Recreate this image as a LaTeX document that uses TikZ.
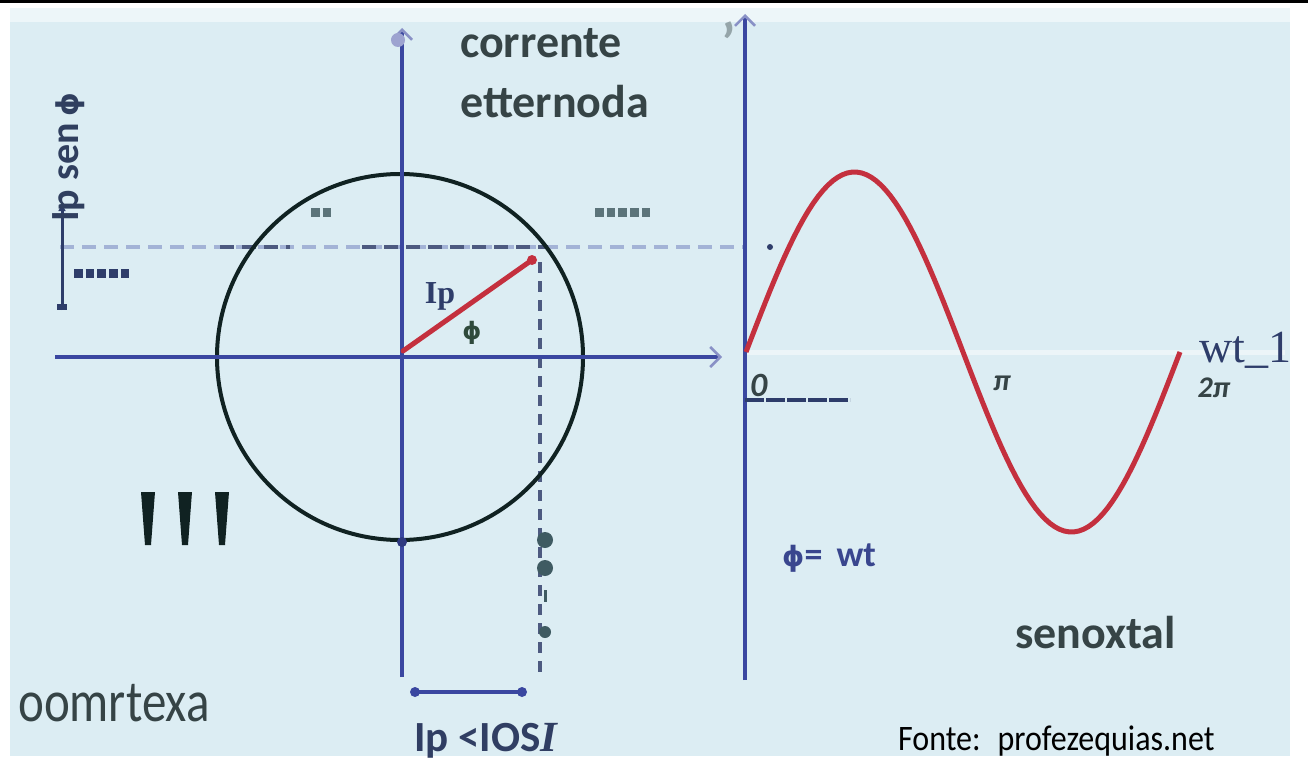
\documentclass[tikz,border=0pt]{standalone}
\usepackage{fontspec}
\setmainfont{Carlito}
\newfontfamily\timesfont{Liberation Serif}
\newfontfamily\greekfont{DejaVu Sans}
\usetikzlibrary{arrows.meta}

\definecolor{bgblue}{HTML}{DCEDF3}
\definecolor{axisblue}{HTML}{3A47A0}
\definecolor{sinered}{HTML}{C4303E}
\definecolor{darkslate}{HTML}{364446}
\definecolor{inkblue}{HTML}{2E3D6A}
\definecolor{dotgray}{HTML}{3F5B62}
\definecolor{ringblack}{HTML}{102222}
\definecolor{phigreen}{HTML}{2F4A3C}

\newcommand{\phisym}{{\greekfont\bfseries ϕ}}

\begin{document}
\begin{tikzpicture}[
  x=1pt, y=-1pt,
  >={Straight Barb[length=10pt,width=20pt,line width=2.5pt,color=axisblue!60]},
  axis/.style={draw=axisblue, line width=4.5pt},
  ring/.style={draw=ringblack, line width=4pt},
  phasor/.style={draw=sinered, line width=5pt, line cap=round},
  guide/.style={draw=axisblue!35!bgblue, line width=3.5pt, dash pattern=on 14pt off 8pt},
  darkguide/.style={draw=inkblue!85, line width=3.5pt, dash pattern=on 14pt off 8pt},
  squaredots/.style={line width=9pt, dash pattern=on 8.5pt off 3.2pt},
  bigsans/.style={font=\fontsize{46}{56}\selectfont\bfseries, text=darkslate, inner sep=0pt},
  tick/.style={font=\fontsize{30}{30}\selectfont\bfseries\itshape, text=darkslate, inner sep=0pt},
]

\useasboundingbox (0,0) rectangle (1308,760);

% --- Hintergrund und Rahmenlinie oben ---
\fill[bgblue] (10,8) rectangle (1290,756);
\fill[white, opacity=0.5] (10,8) rectangle (1290,22);
\draw[black, line width=3pt] (0,2) -- (1308,2);

% --- Hilfslinien (gestrichelt) ---
\draw[guide] (60,247) -- (745,247);
\draw[darkguide] (220,247) -- (290,247);
\draw[darkguide] (362,247) -- (548,247);
\fill[inkblue] (770,247) circle (3pt);
\draw[darkguide, line width=4pt, dash pattern=on 11pt off 8pt] (540,262) -- (540,677);

% --- Kreis und Achsen links ---
\draw[ring] (400,357) circle[radius=183];
\draw[axis, ->] (55,357) -- (722,357);
\draw[axis, ->] (402,677) -- (402,28);
\fill[axisblue!50!white] (398,40) circle (7pt);

% --- Zeiger Ip ---
\coordinate (origin) at (403,351);
\coordinate (tip) at (532,260);
\draw[phasor] (origin) -- (tip);
\fill[sinered] (tip) circle (5pt);
\node[font=\timesfont\fontsize{32}{32}\selectfont\bfseries, text=inkblue] (iplabel) at (440,296) {Ip};
\node[font=\fontsize{24}{24}\selectfont, text=phigreen] (philabel) at (472,333) {\phisym};

% --- Projektion Ip sen phi links ---
\draw[draw=inkblue, line width=3pt, -{Latex[length=8pt,width=8pt]}] (62,310) -- (62,203);
\fill[inkblue] (57,310) rectangle (67,304);
\node[rotate=90, anchor=base west, font=\fontsize{40}{40}\selectfont\bfseries, text=inkblue!70!darkslate, inner sep=0pt] (ipsen) at (78,222) {Ip sen\,{\fontsize{30}{30}\selectfont\phisym}};

% --- Punktreihen ---
\draw[squaredots, draw=inkblue] (74,273) -- (131,273);
\draw[squaredots, draw=dotgray!85] (311,212) -- (331,212);
\draw[squaredots, draw=dotgray!85] (595,212) -- (652,212);

% --- Achsen rechts und Sinuskurve ---
\draw[draw=white!45!bgblue, line width=5pt] (745,352) -- (1285,352);
\draw[axis, ->] (745,680) -- (745,14);
\draw[sinered, line width=5pt, line join=round]
  plot[domain=0:360, samples=91] ({746+\x/360*434},{352-180*sin(\x)});
\node[font=\fontsize{56}{56}\selectfont\bfseries, text=dotgray!55, inner sep=0pt] (quote) at (729,42) {\char"27};

% --- Beschriftung der wt-Achse ---
\node[tick, anchor=base west, font=\fontsize{34}{34}\selectfont\bfseries\itshape] (zero) at (750,396) {0};
\draw[inkblue, line width=4.5pt, dash pattern=on 19pt off 2pt] (745,400) -- (850,400);
\node[tick] (pi) at (1002,383) {π};
\node[tick] (twopi) at (1214,388) {2π};
\node[font=\timesfont\fontsize{46}{46}\selectfont, text=inkblue, anchor=base west, inner sep=0pt] (wt) at (1199,362) {wt\_1};

% --- Texte ---
\node[bigsans, anchor=base west] (title) at (460,58) {corrente};
\node[bigsans, anchor=base west] (subtitle) at (460,117) {etternoda};
\node[bigsans, anchor=base west] (seno) at (1015,648) {senoxtal};
\node[font=\fontsize{36}{36}\selectfont\bfseries, text=axisblue!80!darkslate, anchor=base west, inner sep=0pt] (phiwt) at (782,566) {{\fontsize{28}{28}\selectfont\phisym}= \,wt};
\node[font=\fontsize{49}{49}\selectfont, text=darkslate, anchor=base west, inner sep=0pt, yscale=1.2, transform shape] (oomr) at (18,721) {oomrtexa};
\node[font=\fontsize{32}{32}\selectfont, text=black, anchor=base west, inner sep=0pt, yscale=1.12, transform shape] (fonte) at (898,750) {Fonte: \ profezequias.net};
\node[font=\fontsize{43}{43}\selectfont\bfseries, text=inkblue!80!darkslate, anchor=base west, inner sep=0pt] (ipcos) at (414,751) {Ip <IOS{\timesfont\itshape I}};

% --- Drei dicke Striche links unten ---
\foreach \qx in {148,185,222} {
  \fill[ringblack] (\qx-7,492) -- (\qx+7,492) -- (\qx+3,545) -- (\qx-3,545) -- cycle;
}

% --- Strecke Ip cos phi unten ---
\draw[axisblue, line width=4pt] (415,692) -- (522,692);
\fill[axisblue] (415,692) circle (5pt) (522,692) circle (5pt);

% --- Punkte unter dem Kreis ---
\fill[dotgray] (545,540) circle (8pt) (545,568) circle (8pt) (545,632) circle (6pt);
\fill[dotgray] (543.5,590) rectangle (546.5,602);
\fill[axisblue!80!black] (402,542) circle (5pt);

\end{tikzpicture}
\end{document}
